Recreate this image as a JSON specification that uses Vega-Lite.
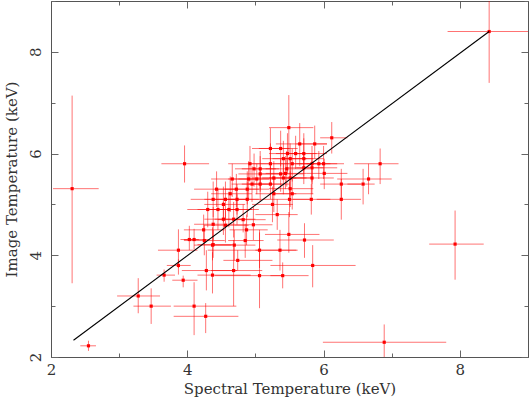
{
  "$schema": "https://vega.github.io/schema/vega-lite/v6.json",
  "width": 477,
  "height": 356,
  "autosize": "none",
  "padding": {"left": 51, "top": 1, "right": 3, "bottom": 40},
  "background": "white",
  "config": {
    "view": {"stroke": null},
    "axis": {
      "grid": false,
      "domainColor": "#555",
      "domainWidth": 1,
      "tickColor": "#666",
      "tickWidth": 1,
      "labelFont": "DejaVu Serif",
      "labelFontSize": 15,
      "labelColor": "#333",
      "titleFont": "DejaVu Serif",
      "titleFontSize": 15,
      "titleFontWeight": "normal",
      "titleColor": "#333",
      "labelFlush": false,
      "labelOverlap": false
    }
  },
  "datasets": {
    "pts": [
      {"x": 2.31, "y": 5.31, "xlo": 2.03, "xhi": 2.70, "ylo": 3.45, "yhi": 7.14},
      {"x": 2.55, "y": 2.22, "xlo": 2.43, "xhi": 2.66, "ylo": 2.12, "yhi": 2.32},
      {"x": 3.96, "y": 5.80, "xlo": 3.62, "xhi": 4.32, "ylo": 5.43, "yhi": 6.16},
      {"x": 6.89, "y": 2.29, "xlo": 5.99, "xhi": 7.80, "ylo": 1.90, "yhi": 2.64},
      {"x": 7.93, "y": 4.22, "xlo": 7.55, "xhi": 8.35, "ylo": 3.52, "yhi": 4.88},
      {"x": 8.43, "y": 8.40, "xlo": 7.82, "xhi": 9.30, "ylo": 7.39, "yhi": 9.30},
      {"x": 3.28, "y": 3.20, "xlo": 2.97, "xhi": 3.60, "ylo": 2.86, "yhi": 3.55},
      {"x": 3.47, "y": 3.00, "xlo": 3.21, "xhi": 3.76, "ylo": 2.65, "yhi": 3.35},
      {"x": 3.66, "y": 3.61, "xlo": 3.55, "xhi": 3.82, "ylo": 3.48, "yhi": 3.72},
      {"x": 3.87, "y": 4.10, "xlo": 3.57, "xhi": 4.15, "ylo": 3.75, "yhi": 4.51},
      {"x": 3.87, "y": 3.80, "xlo": 3.70, "xhi": 4.05, "ylo": 3.62, "yhi": 3.92},
      {"x": 3.94, "y": 3.51, "xlo": 3.78, "xhi": 4.15, "ylo": 3.37, "yhi": 3.60},
      {"x": 4.03, "y": 4.31, "xlo": 3.90, "xhi": 4.17, "ylo": 4.10, "yhi": 4.58},
      {"x": 4.10, "y": 4.31, "xlo": 3.95, "xhi": 4.32, "ylo": 4.12, "yhi": 4.52},
      {"x": 4.10, "y": 3.00, "xlo": 3.80, "xhi": 4.72, "ylo": 2.43, "yhi": 3.47},
      {"x": 4.27, "y": 2.80, "xlo": 3.80, "xhi": 4.75, "ylo": 2.47, "yhi": 3.06},
      {"x": 4.28, "y": 3.70, "xlo": 3.92, "xhi": 4.73, "ylo": 3.31, "yhi": 4.10},
      {"x": 4.37, "y": 3.61, "xlo": 4.15, "xhi": 4.93, "ylo": 3.25, "yhi": 4.06},
      {"x": 4.68, "y": 3.70, "xlo": 4.35, "xhi": 5.10, "ylo": 3.00, "yhi": 4.30},
      {"x": 4.74, "y": 3.90, "xlo": 4.53, "xhi": 5.25, "ylo": 3.70, "yhi": 4.10},
      {"x": 4.69, "y": 4.20, "xlo": 4.40, "xhi": 5.00, "ylo": 3.90, "yhi": 4.50},
      {"x": 4.85, "y": 4.29, "xlo": 4.60, "xhi": 5.12, "ylo": 3.95, "yhi": 4.62},
      {"x": 4.24, "y": 4.50, "xlo": 3.95, "xhi": 4.55, "ylo": 4.25, "yhi": 4.80},
      {"x": 4.38, "y": 4.21, "xlo": 4.15, "xhi": 4.70, "ylo": 3.95, "yhi": 4.50},
      {"x": 5.32, "y": 4.80, "xlo": 5.00, "xhi": 5.62, "ylo": 4.50, "yhi": 5.10},
      {"x": 5.49, "y": 4.41, "xlo": 5.14, "xhi": 5.94, "ylo": 4.05, "yhi": 4.85},
      {"x": 5.72, "y": 4.30, "xlo": 5.32, "xhi": 6.15, "ylo": 3.95, "yhi": 4.63},
      {"x": 5.06, "y": 4.10, "xlo": 4.30, "xhi": 5.60, "ylo": 3.75, "yhi": 4.45},
      {"x": 5.36, "y": 4.10, "xlo": 5.00, "xhi": 5.62, "ylo": 3.70, "yhi": 4.50},
      {"x": 5.84, "y": 3.80, "xlo": 5.22, "xhi": 6.47, "ylo": 3.37, "yhi": 4.20},
      {"x": 5.06, "y": 3.60, "xlo": 4.40, "xhi": 5.41, "ylo": 2.96, "yhi": 4.50},
      {"x": 5.40, "y": 3.60, "xlo": 5.22, "xhi": 5.78, "ylo": 3.35, "yhi": 3.86},
      {"x": 4.87, "y": 4.50, "xlo": 4.62, "xhi": 5.18, "ylo": 4.20, "yhi": 4.80},
      {"x": 4.97, "y": 4.60, "xlo": 4.70, "xhi": 5.25, "ylo": 4.30, "yhi": 4.95},
      {"x": 4.82, "y": 4.70, "xlo": 4.45, "xhi": 5.15, "ylo": 4.45, "yhi": 5.00},
      {"x": 5.49, "y": 6.51, "xlo": 5.20, "xhi": 5.85, "ylo": 6.00, "yhi": 7.15},
      {"x": 6.12, "y": 6.31, "xlo": 5.95, "xhi": 6.35, "ylo": 6.00, "yhi": 6.62},
      {"x": 5.65, "y": 6.19, "xlo": 5.30, "xhi": 6.05, "ylo": 5.75, "yhi": 6.60},
      {"x": 5.87, "y": 6.19, "xlo": 5.60, "xhi": 6.05, "ylo": 5.90, "yhi": 6.55},
      {"x": 5.22, "y": 6.10, "xlo": 4.95, "xhi": 5.50, "ylo": 5.70, "yhi": 6.50},
      {"x": 5.37, "y": 6.10, "xlo": 5.05, "xhi": 5.62, "ylo": 5.75, "yhi": 6.45},
      {"x": 5.47, "y": 6.00, "xlo": 5.20, "xhi": 5.70, "ylo": 5.60, "yhi": 6.40},
      {"x": 5.59, "y": 6.00, "xlo": 5.30, "xhi": 5.90, "ylo": 5.70, "yhi": 6.35},
      {"x": 5.71, "y": 6.00, "xlo": 5.45, "xhi": 6.05, "ylo": 5.65, "yhi": 6.40},
      {"x": 5.41, "y": 5.90, "xlo": 5.10, "xhi": 5.75, "ylo": 5.55, "yhi": 6.25},
      {"x": 5.51, "y": 5.90, "xlo": 5.25, "xhi": 5.85, "ylo": 5.50, "yhi": 6.20},
      {"x": 5.71, "y": 5.90, "xlo": 5.40, "xhi": 6.00, "ylo": 5.55, "yhi": 6.30},
      {"x": 4.92, "y": 5.80, "xlo": 4.60, "xhi": 5.20, "ylo": 5.45, "yhi": 6.15},
      {"x": 5.07, "y": 5.70, "xlo": 4.80, "xhi": 5.35, "ylo": 5.30, "yhi": 6.05},
      {"x": 5.22, "y": 5.80, "xlo": 4.90, "xhi": 5.50, "ylo": 5.40, "yhi": 6.20},
      {"x": 5.54, "y": 5.80, "xlo": 5.25, "xhi": 5.85, "ylo": 5.45, "yhi": 6.10},
      {"x": 5.83, "y": 5.80, "xlo": 5.55, "xhi": 6.10, "ylo": 5.40, "yhi": 6.15},
      {"x": 5.93, "y": 5.80, "xlo": 5.60, "xhi": 6.20, "ylo": 5.50, "yhi": 6.05},
      {"x": 6.00, "y": 5.80, "xlo": 5.75, "xhi": 6.30, "ylo": 5.50, "yhi": 6.15},
      {"x": 6.83, "y": 5.80, "xlo": 6.45, "xhi": 7.10, "ylo": 5.40, "yhi": 6.10},
      {"x": 4.98, "y": 5.70, "xlo": 4.70, "xhi": 5.30, "ylo": 5.35, "yhi": 6.00},
      {"x": 5.46, "y": 5.70, "xlo": 5.15, "xhi": 5.80, "ylo": 5.35, "yhi": 6.05},
      {"x": 5.71, "y": 5.72, "xlo": 5.45, "xhi": 6.00, "ylo": 5.40, "yhi": 6.00},
      {"x": 5.83, "y": 5.72, "xlo": 5.60, "xhi": 6.20, "ylo": 5.45, "yhi": 6.00},
      {"x": 5.07, "y": 5.60, "xlo": 4.75, "xhi": 5.40, "ylo": 5.25, "yhi": 5.95},
      {"x": 5.37, "y": 5.60, "xlo": 5.05, "xhi": 5.70, "ylo": 5.25, "yhi": 5.90},
      {"x": 5.44, "y": 5.61, "xlo": 5.15, "xhi": 5.75, "ylo": 5.30, "yhi": 5.95},
      {"x": 6.01, "y": 5.61, "xlo": 5.75, "xhi": 6.35, "ylo": 5.30, "yhi": 5.90},
      {"x": 4.66, "y": 5.50, "xlo": 4.35, "xhi": 5.00, "ylo": 5.15, "yhi": 5.80},
      {"x": 4.90, "y": 5.50, "xlo": 4.60, "xhi": 5.20, "ylo": 5.10, "yhi": 5.85},
      {"x": 5.02, "y": 5.50, "xlo": 4.75, "xhi": 5.30, "ylo": 5.20, "yhi": 5.80},
      {"x": 5.27, "y": 5.52, "xlo": 4.95, "xhi": 5.60, "ylo": 5.20, "yhi": 5.85},
      {"x": 5.41, "y": 5.52, "xlo": 5.10, "xhi": 5.75, "ylo": 5.20, "yhi": 5.80},
      {"x": 5.51, "y": 5.52, "xlo": 5.20, "xhi": 5.85, "ylo": 5.15, "yhi": 5.90},
      {"x": 5.83, "y": 5.52, "xlo": 5.50, "xhi": 6.15, "ylo": 5.20, "yhi": 5.85},
      {"x": 6.66, "y": 5.50, "xlo": 6.20, "xhi": 7.00, "ylo": 5.20, "yhi": 5.80},
      {"x": 6.58, "y": 5.40, "xlo": 6.35, "xhi": 6.75, "ylo": 5.00, "yhi": 5.70},
      {"x": 6.26, "y": 5.40, "xlo": 5.95, "xhi": 6.55, "ylo": 5.10, "yhi": 5.70},
      {"x": 4.95, "y": 5.40, "xlo": 4.65, "xhi": 5.25, "ylo": 5.05, "yhi": 5.75},
      {"x": 5.07, "y": 5.40, "xlo": 4.80, "xhi": 5.40, "ylo": 5.05, "yhi": 5.70},
      {"x": 5.22, "y": 5.40, "xlo": 4.90, "xhi": 5.50, "ylo": 5.10, "yhi": 5.75},
      {"x": 4.43, "y": 5.30, "xlo": 4.10, "xhi": 4.75, "ylo": 4.95, "yhi": 5.65},
      {"x": 4.72, "y": 5.30, "xlo": 4.40, "xhi": 5.05, "ylo": 4.95, "yhi": 5.60},
      {"x": 4.88, "y": 5.30, "xlo": 4.55, "xhi": 5.20, "ylo": 5.00, "yhi": 5.65},
      {"x": 5.51, "y": 5.31, "xlo": 5.20, "xhi": 5.85, "ylo": 4.95, "yhi": 5.65},
      {"x": 4.63, "y": 5.21, "xlo": 4.35, "xhi": 4.95, "ylo": 4.85, "yhi": 5.55},
      {"x": 5.54, "y": 5.21, "xlo": 5.25, "xhi": 5.85, "ylo": 4.90, "yhi": 5.50},
      {"x": 5.27, "y": 5.21, "xlo": 5.00, "xhi": 5.60, "ylo": 4.85, "yhi": 5.55},
      {"x": 4.38, "y": 5.10, "xlo": 4.05, "xhi": 4.70, "ylo": 4.75, "yhi": 5.45},
      {"x": 4.56, "y": 5.10, "xlo": 4.25, "xhi": 4.90, "ylo": 4.70, "yhi": 5.45},
      {"x": 4.73, "y": 5.10, "xlo": 4.40, "xhi": 5.05, "ylo": 4.80, "yhi": 5.40},
      {"x": 4.88, "y": 5.10, "xlo": 4.60, "xhi": 5.20, "ylo": 4.75, "yhi": 5.45},
      {"x": 5.50, "y": 5.10, "xlo": 5.20, "xhi": 5.80, "ylo": 4.75, "yhi": 5.45},
      {"x": 5.82, "y": 5.10, "xlo": 5.55, "xhi": 6.10, "ylo": 4.80, "yhi": 5.40},
      {"x": 6.26, "y": 5.10, "xlo": 5.90, "xhi": 6.55, "ylo": 4.70, "yhi": 5.50},
      {"x": 4.53, "y": 5.00, "xlo": 4.25, "xhi": 4.85, "ylo": 4.65, "yhi": 5.35},
      {"x": 5.25, "y": 5.00, "xlo": 4.95, "xhi": 5.55, "ylo": 4.65, "yhi": 5.35},
      {"x": 4.30, "y": 4.90, "xlo": 4.00, "xhi": 4.60, "ylo": 4.55, "yhi": 5.25},
      {"x": 4.45, "y": 4.90, "xlo": 4.15, "xhi": 4.75, "ylo": 4.50, "yhi": 5.30},
      {"x": 4.61, "y": 4.90, "xlo": 4.30, "xhi": 4.95, "ylo": 4.55, "yhi": 5.25},
      {"x": 4.73, "y": 4.90, "xlo": 4.45, "xhi": 5.05, "ylo": 4.60, "yhi": 5.20},
      {"x": 4.53, "y": 4.71, "xlo": 4.25, "xhi": 4.85, "ylo": 4.40, "yhi": 5.05},
      {"x": 4.68, "y": 4.71, "xlo": 4.40, "xhi": 5.00, "ylo": 4.35, "yhi": 5.05},
      {"x": 4.38, "y": 4.61, "xlo": 4.10, "xhi": 4.70, "ylo": 4.30, "yhi": 4.95},
      {"x": 4.56, "y": 4.59, "xlo": 4.25, "xhi": 4.90, "ylo": 4.25, "yhi": 4.90},
      {"x": 4.25, "y": 4.29, "xlo": 3.95, "xhi": 4.55, "ylo": 4.00, "yhi": 4.60},
      {"x": 4.37, "y": 4.20, "xlo": 4.10, "xhi": 4.65, "ylo": 3.90, "yhi": 4.55}
    ],
    "fit": [
      {"x1": 2.33, "y1": 2.33, "x2": 8.43, "y2": 8.40}
    ]
  },
  "layer": [
    {
      "data": {"name": "pts"},
      "mark": {"type": "rule", "color": "#ff0000", "opacity": 0.55, "strokeWidth": 1, "clip": true},
      "encoding": {
        "x": {"field": "xlo", "type": "quantitative", "scale": {"domain": [2, 9], "nice": false, "zero": false},
          "axis": {
            "orient": "bottom",
            "title": "Spectral Temperature (keV)",
            "values": [2, 3, 4, 5, 6, 7, 8, 9],
            "format": "d",
            "labelExpr": "datum.value % 2 === 0 ? datum.label : ''",
            "tickSize": {"condition": {"test": "datum.value % 2 === 0", "value": -7}, "value": -4},
            "labelPadding": 12,
            "titlePadding": 1
          }},
        "x2": {"field": "xhi"},
        "y": {"field": "y", "type": "quantitative", "scale": {"domain": [2, 9], "nice": false, "zero": false},
          "axis": {
            "orient": "left",
            "title": "Image Temperature (keV)",
            "values": [2, 3, 4, 5, 6, 7, 8, 9],
            "format": "d",
            "labelExpr": "datum.value % 2 === 0 ? datum.label : ''",
            "tickSize": {"condition": {"test": "datum.value % 2 === 0", "value": -7}, "value": -4},
            "labelAngle": -90,
            "labelAlign": "center",
            "labelBaseline": "bottom",
            "labelPadding": 15,
            "titlePadding": 6
          }}
      }
    },
    {
      "data": {"name": "pts"},
      "mark": {"type": "rule", "color": "#ff0000", "opacity": 0.55, "strokeWidth": 1, "clip": true},
      "encoding": {
        "x": {"field": "x", "type": "quantitative", "scale": {"domain": [2, 9], "nice": false, "zero": false}, "axis": null},
        "y": {"field": "ylo", "type": "quantitative", "scale": {"domain": [2, 9], "nice": false, "zero": false}, "axis": null},
        "y2": {"field": "yhi"}
      }
    },
    {
      "data": {"name": "pts"},
      "mark": {"type": "square", "color": "#ff0000", "opacity": 1, "size": 10, "clip": true},
      "encoding": {
        "x": {"field": "x", "type": "quantitative", "scale": {"domain": [2, 9], "nice": false, "zero": false}, "axis": null},
        "y": {"field": "y", "type": "quantitative", "scale": {"domain": [2, 9], "nice": false, "zero": false}, "axis": null}
      }
    },
    {
      "data": {"name": "fit"},
      "mark": {"type": "rule", "color": "#000000", "strokeWidth": 1.1, "clip": true},
      "encoding": {
        "x": {"field": "x1", "type": "quantitative", "scale": {"domain": [2, 9], "nice": false, "zero": false},
          "axis": {
            "orient": "top",
            "title": null,
            "labels": false,
            "values": [2, 3, 4, 5, 6, 7, 8, 9],
            "tickSize": {"condition": {"test": "datum.value % 2 === 0", "value": -7}, "value": -4}
          }},
        "x2": {"field": "x2"},
        "y": {"field": "y1", "type": "quantitative", "scale": {"domain": [2, 9], "nice": false, "zero": false},
          "axis": {
            "orient": "right",
            "title": null,
            "labels": false,
            "values": [2, 3, 4, 5, 6, 7, 8, 9],
            "tickSize": {"condition": {"test": "datum.value % 2 === 0", "value": -7}, "value": -4}
          }},
        "y2": {"field": "y2"}
      }
    }
  ],
  "resolve": {"axis": {"x": "independent", "y": "independent"}}
}
